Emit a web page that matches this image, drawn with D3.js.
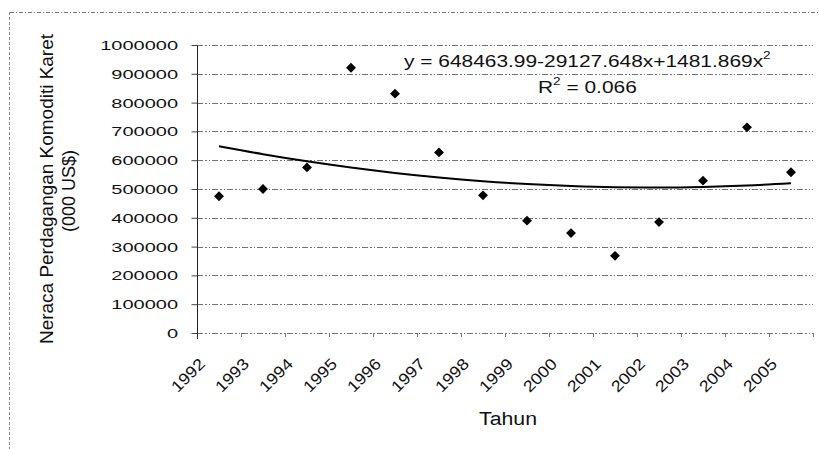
<!DOCTYPE html>
<html>
<head>
<meta charset="utf-8">
<script src="https://cdn.jsdelivr.net/npm/d3@7"></script>
<style>
  html, body { margin: 0; padding: 0; background: #fff; }
  svg { display: block; font-family: Arial, "Liberation Sans", sans-serif; }
</style>
</head>
<body>
<svg id="chart" width="819" height="449"></svg>
<script>
const years = ["1992","1993","1994","1995","1996","1997","1998","1999","2000","2001","2002","2003","2004","2005"];
const values = [475000, 500000, 575000, 921000, 831000, 627000, 478000, 390000, 347000, 268000, 385000, 529000, 714000, 558000];
const trendValues = [648464, 620818, 596136, 574418, 555663, 539873, 527045, 517182, 510283, 506346, 505375, 507366, 512321, 520241];
const yTicks = [0, 100000, 200000, 300000, 400000, 500000, 600000, 700000, 800000, 900000, 1000000];
const equationText = "y = 648463.99-29127.648x+1481.869x";
const r2Value = "0.066";
const yTitle1 = "Neraca Perdagangan Komoditi Karet";
const yTitle2 = "(000 US$)";
const xTitle = "Tahun";

const svg = d3.select("#chart");
const plotLeft = 197, plotRight = 813, plotTop = 45, plotBottom = 333;

const x = d3.scaleBand().domain(years).range([plotLeft, plotRight]);
const y = d3.scaleLinear().domain([0, 1000000]).range([plotBottom, plotTop]);

// chart area border (dashed, scanned look)
svg.append("line").attr("x1", 10).attr("x2", 819).attr("y1", 12.5).attr("y2", 12.5)
  .attr("stroke", "#777").attr("stroke-width", 1).attr("stroke-dasharray", "4,2,1,2");
svg.append("line").attr("x1", 9.5).attr("x2", 9.5).attr("y1", 12).attr("y2", 449)
  .attr("stroke", "#888").attr("stroke-width", 1).attr("stroke-dasharray", "3,2");

// gridlines
svg.append("g").selectAll("line").data(yTicks).join("line")
  .attr("x1", plotLeft).attr("x2", plotRight)
  .attr("y1", d => Math.round(y(d)) + 0.5).attr("y2", d => Math.round(y(d)) + 0.5)
  .attr("stroke", "#444").attr("stroke-width", 1)
  .attr("stroke-dasharray", "6,2,2,2,1,2")
  .attr("opacity", 0.75);

// y axis
const yAxis = d3.axisLeft(y).tickValues(yTicks).tickSize(6).tickFormat("");
const gy = svg.append("g").attr("transform", `translate(${plotLeft + 0.5},0)`).call(yAxis);
gy.select(".domain").attr("d", `M0,${plotTop}V${plotBottom + 6}`).attr("stroke", "#222");
gy.selectAll(".tick line").attr("stroke", "#444");

// y tick labels (stretched like the scan)
svg.append("g").selectAll("text").data(yTicks).join("text")
  .attr("transform", d => `translate(178,${y(d) + 5}) scale(1.48,1)`)
  .attr("text-anchor", "end")
  .attr("font-size", 13.5)
  .attr("fill", "#111")
  .text(d => String(d));

// x axis ticks at category boundaries
const bounds = years.map(d => x(d)).concat([plotRight]);
svg.append("g").selectAll("line").data(bounds.slice(1)).join("line")
  .attr("x1", d => d + 0.5).attr("x2", d => d + 0.5)
  .attr("y1", plotBottom).attr("y2", plotBottom + 4)
  .attr("stroke", "#777");

// x tick labels
svg.append("g").selectAll("text").data(years).join("text")
  .attr("transform", d => `translate(${x(d) + x.bandwidth() / 2 - 13},${365}) rotate(-45)`)
  .attr("text-anchor", "end")
  .attr("font-size", 16)
  .attr("textLength", 40).attr("lengthAdjust", "spacingAndGlyphs")
  .attr("fill", "#111")
  .text(d => d);

// trend line
const line = d3.line()
  .x((d, i) => x(years[i]) + x.bandwidth() / 2)
  .y(d => y(d))
  .curve(d3.curveMonotoneX);
svg.append("path").datum(trendValues)
  .attr("d", line)
  .attr("fill", "none").attr("stroke", "#000").attr("stroke-width", 2);

// markers
const diamond = d3.symbol().type(d3.symbolDiamond2).size(62);
svg.append("g").selectAll("path").data(values).join("path")
  .attr("transform", (d, i) => `translate(${x(years[i]) + x.bandwidth() / 2},${y(d)})`)
  .attr("d", diamond)
  .attr("fill", "#000");

// equation
const eq = svg.append("g").attr("transform", "translate(404,67) scale(1.23,1)");
eq.append("text").attr("font-size", 17).attr("fill", "#111")
  .call(t => {
    t.append("tspan").text(equationText);
    t.append("tspan").attr("font-size", 11).attr("dy", -8).text("2");
  });
const r2 = svg.append("g").attr("transform", "translate(538,93) scale(1.23,1)");
r2.append("text").attr("font-size", 17).attr("fill", "#111")
  .call(t => {
    t.append("tspan").text("R");
    t.append("tspan").attr("font-size", 11).attr("dy", -8).text("2");
    t.append("tspan").attr("dy", 8).text(" = " + r2Value);
  });

// axis titles
svg.append("text")
  .attr("transform", "translate(53,189) rotate(-90)")
  .attr("text-anchor", "middle").attr("font-size", 17.5).attr("fill", "#111")
  .attr("textLength", 310).attr("lengthAdjust", "spacingAndGlyphs")
  .text(yTitle1);
svg.append("text")
  .attr("transform", "translate(75,191) rotate(-90)")
  .attr("text-anchor", "middle").attr("font-size", 17.5).attr("fill", "#111")
  .attr("textLength", 82).attr("lengthAdjust", "spacingAndGlyphs")
  .text(yTitle2);
svg.append("text")
  .attr("x", 508).attr("y", 425)
  .attr("text-anchor", "middle").attr("font-size", 18).attr("fill", "#111")
  .attr("textLength", 58).attr("lengthAdjust", "spacingAndGlyphs")
  .text(xTitle);
</script>
</body>
</html>
